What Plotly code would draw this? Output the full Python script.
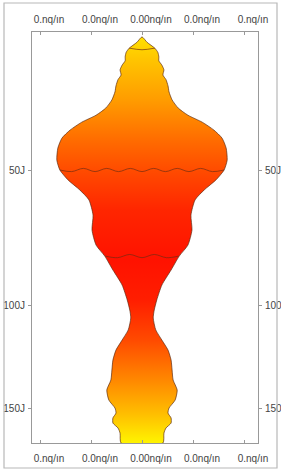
import numpy as np
import plotly.graph_objects as go

# ---- data ----
depth = [17.5, 18.5, 19.6, 20.4, 21.3, 22.1, 23.0, 24.0, 25.1, 26.1, 27.5, 28.9, 30.8, 32.8, 34.6,
         36.4, 38.5, 40.7, 43.5, 47.0, 50.0, 53.1, 56.3, 59.6, 64.8, 70.1, 75.7, 79.9, 85.4, 91.5,
         97.8, 102.2, 105.7, 111.1, 115.8, 120.5, 125.3, 130.2, 135.2, 140.3, 145.5, 149.7, 152.4,
         155.0, 157.8, 160.5, 163.3, 168.9]
half_width = [0.00, 0.10, 0.25, 0.31, 0.33, 0.33, 0.39, 0.43, 0.41, 0.47, 0.51, 0.53, 0.59, 0.71, 0.90,
              1.18, 1.41, 1.57, 1.65, 1.67, 1.61, 1.45, 1.22, 1.04, 0.96, 0.98, 0.90, 0.73, 0.57, 0.39,
              0.29, 0.24, 0.22, 0.27, 0.39, 0.51, 0.57, 0.59, 0.61, 0.69, 0.65, 0.53, 0.51,
              0.57, 0.57, 0.47, 0.43, 0.41]
boundary_depth = [19.6, 50.0, 79.9]
boundary_half_width = [0.25, 1.61, 0.72]
x_tick_vals = [-2, -1, 0, 1, 2]
x_tick_text = ["0.nq/ın", "0.0nq/ın", "0.00nq/ın", "0.0nq/ın", "0.nq/ın"]
y_tick_vals = [50, 100, 150]
y_tick_text = ["50J", "100J", "150J"]

# sqrt-scaled depth axis
s = np.sqrt(np.array(depth))
hw = np.array(half_width)
poly_x = np.concatenate([-hw, hw[::-1]])
poly_y = np.concatenate([s, s[::-1]])

grad = [
    [0.000, "#FFE000"], [0.057, "#FFC400"], [0.155, "#FF9C00"], [0.254, "#FF6C00"],
    [0.327, "#FF4C00"], [0.426, "#FF2600"], [0.549, "#FF1200"], [0.648, "#FF1E00"],
    [0.746, "#FF4A00"], [0.845, "#FF8800"], [0.931, "#FFC000"], [1.000, "#FFF400"],
]

fig = go.Figure()
fig.add_trace(go.Scatter(
    x=poly_x, y=poly_y, mode="lines", fill="toself",
    line=dict(color="rgba(90,40,15,0.85)", width=0.8, shape="spline", smoothing=0.6),
    fillgradient=dict(type="vertical", colorscale=grad, start=float(s[0]), stop=float(s[-1])),
    hoverinfo="skip", showlegend=False,
))

# wavy boundary lines
px_per_unit = 46.09  # pixels per sqrt unit (styling of wave)
for d, w in zip(boundary_depth, boundary_half_width):
    step = 11 / 51.0
    n = max(int(2 * w / step), 2)
    xs = np.linspace(-w, w, n + 1)
    amp = 1.6 / px_per_unit
    ys = np.sqrt(d) + np.array([amp if i % 2 else -amp for i in range(n + 1)])
    ys[0] = ys[-1] = np.sqrt(d)
    fig.add_trace(go.Scatter(x=xs, y=ys, mode="lines",
                             line=dict(color="rgba(110,45,20,0.85)", width=0.8, shape="spline"),
                             hoverinfo="skip", showlegend=False))

# dummy trace for mirrored axes
fig.add_trace(go.Scatter(x=[0], y=[np.sqrt(50)], xaxis="x2", yaxis="y2", mode="markers",
                         marker=dict(opacity=0), hoverinfo="skip", showlegend=False))

xr = [-110 / 51.0, 116 / 51.0]
yr = [12.994, 4.077]
font = dict(family="Liberation Sans, Arial", size=10, color="#444")
common_x = dict(range=xr, tickvals=x_tick_vals, ticktext=x_tick_text, ticks="inside", ticklen=3,
                tickcolor="#999", showgrid=False, zeroline=False, tickfont=font, automargin=False,
                ticklabelshift=9, ticklabelstandoff=6)
common_y = dict(range=yr, tickvals=list(np.sqrt(y_tick_vals)), ticktext=y_tick_text, ticks="outside",
                ticklen=3, tickcolor="#999", showgrid=False, zeroline=False, tickfont=font,
                automargin=False, ticklabelstandoff=1)

fig.update_layout(
    width=281, height=471,
    margin=dict(l=32, r=23, t=32, b=28, autoexpand=False),
    paper_bgcolor="white", plot_bgcolor="white",
    xaxis=dict(**common_x, side="bottom", showline=True, linecolor="#999", linewidth=1, mirror=True),
    xaxis2=dict(**common_x, side="top", overlaying="x", showline=False),
    yaxis=dict(**common_y, side="left", showline=True, linecolor="#999", linewidth=1, mirror=True),
    yaxis2=dict(**common_y, side="right", overlaying="y", showline=False),
    shapes=[dict(type="rect", xref="paper", yref="paper",
                 x0=-28 / 226, x1=245 / 226, y0=(443 - 468) / 411, y1=(443 - 3) / 411,
                 line=dict(color="#b8b8b8", width=1.2), fillcolor="rgba(0,0,0,0)", layer="above")],
)

fig.write_html("out.html", config={"displayModeBar": False},
               post_script="document.body.style.margin='0';")
